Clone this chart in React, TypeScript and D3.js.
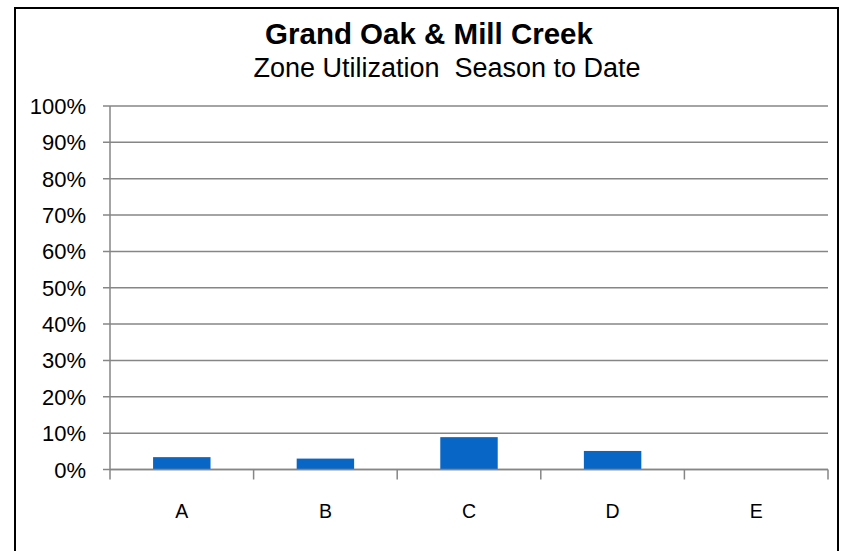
import React from 'react';
import * as d3 from 'd3';

const zones = ['A', 'B', 'C', 'D', 'E'];
const utilization = [0.034, 0.030, 0.089, 0.051, 0];
const yTicks = [0, 0.1, 0.2, 0.3, 0.4, 0.5, 0.6, 0.7, 0.8, 0.9, 1];
const title = 'Grand Oak & Mill Creek';
const subtitle = 'Zone Utilization  Season to Date';

const W = 848;
const H = 551;
const plot = { left: 110, right: 828, top: 106, bottom: 469.5 };

export default function App() {
  const x = d3.scaleBand<string>().domain(zones).range([plot.left, plot.right]).padding(0);
  const y = d3.scaleLinear().domain([0, 1]).range([plot.bottom, plot.top]);
  const barW = x.bandwidth() * 0.4;
  const fmt = d3.format('.0%');
  const font = '"Liberation Sans", Arial, sans-serif';

  return (
    <svg width={W} height={H} style={{ position: 'absolute', left: 0, top: 0, background: '#fff' }}>
      <rect x={15} y={8} width={823} height={570} fill="#fff" stroke="#000" strokeWidth={2} />

      <text x={429} y={43.5} textAnchor="middle" fontFamily={font} fontWeight="bold" fontSize={29.5}>
        {title}
      </text>
      <text x={447} y={77} textAnchor="middle" fontFamily={font} fontSize={27} style={{ whiteSpace: 'pre' }}>
        {subtitle}
      </text>

      {/* gridlines + y labels */}
      {yTicks.map(t => (
        <g key={t}>
          <line x1={plot.left - 7} x2={plot.right} y1={y(t)} y2={y(t)} stroke="#868686" strokeWidth={1.5} />
          <text x={86} y={y(t) + 8} textAnchor="end" fontFamily={font} fontSize={22} fill="#000">
            {fmt(t)}
          </text>
        </g>
      ))}

      {/* y axis */}
      <line x1={plot.left} x2={plot.left} y1={plot.top} y2={plot.bottom} stroke="#868686" strokeWidth={1.5} />

      {/* bars */}
      {zones.map((z, i) => (
        utilization[i] > 0 ? (
          <rect
            key={z}
            x={x(z)! + (x.bandwidth() - barW) / 2}
            y={y(utilization[i])}
            width={barW}
            height={plot.bottom - y(utilization[i])}
            fill="#0866c6"
          />
        ) : null
      ))}

      {/* x axis */}
      <line x1={plot.left} x2={plot.right} y1={plot.bottom} y2={plot.bottom} stroke="#868686" strokeWidth={1.5} />
      {zones.map(z => (
        <line key={'t' + z} x1={x(z)!} x2={x(z)!} y1={plot.bottom} y2={plot.bottom + 10} stroke="#868686" strokeWidth={1.5} />
      ))}
      <line x1={plot.right} x2={plot.right} y1={plot.bottom} y2={plot.bottom + 10} stroke="#868686" strokeWidth={1.5} />
      {zones.map(z => (
        <text key={'l' + z} x={x(z)! + x.bandwidth() / 2} y={518} textAnchor="middle" fontFamily={font} fontSize={19.5} fill="#000">
          {z}
        </text>
      ))}
    </svg>
  );
}
